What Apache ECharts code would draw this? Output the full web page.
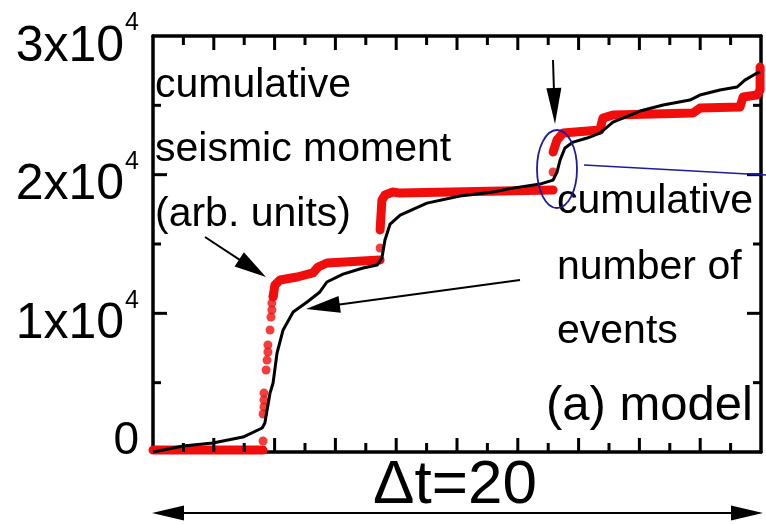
<!DOCTYPE html>
<html>
<head>
<meta charset="utf-8">
<script src="https://cdn.jsdelivr.net/npm/echarts@6/dist/echarts.min.js"></script>
<style>
  html, body { margin: 0; padding: 0; background: #fff; }
  #chart { width: 766px; height: 524px; }
</style>
</head>
<body>
<div id="chart"></div>
<script>
// Time runs over one window of length Δt = 20 (axis units 0..20).

// Cumulative seismic moment (arb. units), black curve
const momentT = [0, 0.99, 1.97, 2.96, 3.59, 3.68, 3.85, 3.95, 4.08, 4.28, 4.61, 5.07, 5.49, 5.72, 6.25, 6.91, 7.37,
  7.53, 7.63, 7.80, 8.13, 9.01, 10.10, 11.18, 11.84, 12.73, 13.16, 13.29, 13.39, 13.55, 13.82, 14.28, 14.70,
  15.13, 16.02, 16.78, 17.66, 17.99, 18.65, 19.21, 19.47, 19.87, 19.97];
const momentV = [0, 430, 650, 1080, 1730, 2090, 4250, 4980, 7140, 8800, 10090, 10820, 11540, 12260, 12830, 13270, 13480,
  13990, 15290, 16440, 17090, 17950, 18460, 18750, 19030, 19320, 19610, 20190, 21050, 21920, 22350, 22640, 23000,
  23790, 24590, 25020, 25380, 25740, 26100, 26320, 26820, 27330, 27400];

// Cumulative number of events, red staircase (null = break at a jump)
const eventsT = [0, 3.62, null, 3.95, 4.01, 4.18, 4.74, 5.26, 5.43, 5.72, 7.47, null,
  7.47, 7.53, 7.63, 7.89, 8.13, 13.16, null,
  13.16, 13.29, 13.49, 14.70, 14.80, 15.13, 17.76, 17.99, 19.31, 19.41, 19.87, 19.97, 19.97];
const eventsV = [140, 140, null, 11180, 12040, 12400, 12620, 12910, 13340, 13630, 13840, null,
  16010, 18170, 18530, 18750, 18670, 18890, null,
  21630, 22500, 23000, 23220, 24080, 24300, 24440, 24800, 24880, 25600, 25740, 26100, 27760];

// Sparse event points along the fast jumps
const eventDotsT = [3.62, 3.62, 3.65, 3.65, 3.65, 3.72, 3.75, 3.78, 3.78, 3.85, 3.88, 3.91, 3.91, 3.95, 7.47, 13.16];
const eventDotsV = [790, 2740, 3250, 3750, 4250, 5910, 6630, 7210, 7720, 8800, 9730, 10240, 10740, 11250, 14710, 20190];

// Tick positions: time ticks every 1 (long on even), moment ticks every 5000 (long on labelled ones)
const xTickValues = [1, 2, 3, 4, 5, 6, 7, 8, 9, 10, 11, 12, 13, 14, 15, 16, 17, 18, 19];
const yTickValues = [5000, 10000, 15000, 20000, 25000];
const yLabelValues = [0, 10000, 20000, 30000];

const X_MIN = 0, X_MAX = 20, Y_MIN = 0, Y_MAX = 30000;

const FONT = '"Liberation Sans", Arial, Helvetica, sans-serif';

const zip = (xs, ys) => xs.map((x, i) => [x, ys[i]]);
const momentData = zip(momentT, momentV);
const eventsData = eventsT.map((t, i) => (t === null ? '-' : [t, eventsV[i]]));
const dotsData = zip(eventDotsT, eventDotsV);

function yLabel(v) {
  if (v === 0) return '{z|0}';
  if (yLabelValues.indexOf(v) < 0) return '';
  return '{m|' + (v / 10000) + 'x10}{e|4}';
}

// Straight arrow with a filled triangular head at (x2, y2)
function arrow(x1, y1, x2, y2, headLen, headW, lw, color) {
  const dx = x2 - x1, dy = y2 - y1;
  const len = Math.hypot(dx, dy);
  const ux = dx / len, uy = dy / len;
  const bx = x2 - ux * headLen, by = y2 - uy * headLen;
  const px = -uy * headW / 2, py = ux * headW / 2;
  return [
    { type: 'line', silent: true, z: 20,
      shape: { x1: x1, y1: y1, x2: bx + ux * 2, y2: by + uy * 2 },
      style: { stroke: color, lineWidth: lw } },
    { type: 'polygon', silent: true, z: 20,
      shape: { points: [[x2, y2], [bx + px, by + py], [bx - px, by - py]] },
      style: { fill: color } }
  ];
}

function label(text, x, y, size, align) {
  return { type: 'text', silent: true, z: 15,
    style: { text: text, x: x, y: y, font: size + 'px ' + FONT, fill: '#000',
      align: align || 'left', verticalAlign: 'middle' } };
}

function xAxisDef(position) {
  return {
    type: 'value', min: X_MIN, max: X_MAX, interval: 2, position: position,
    axisLine: { show: true, onZero: false, lineStyle: { color: '#000', width: 3.5 } },
    axisTick: { show: false },
    minorTick: { show: false },
    axisLabel: { show: false },
    splitLine: { show: false }
  };
}

function yAxisDef(position, axisLabel) {
  return {
    type: 'value', min: Y_MIN, max: Y_MAX, interval: 10000, position: position,
    axisLine: { show: true, onZero: false, lineStyle: { color: '#000', width: 3.5 } },
    axisTick: { show: false },
    minorTick: { show: false },
    axisLabel: axisLabel,
    splitLine: { show: false }
  };
}

const TICK_STYLE = { stroke: '#000', lineWidth: 3 };

// Inward tick marks on both opposite sides of the frame
function renderXTick(params, api) {
  const t = api.value(0);
  const len = t % 2 === 0 ? 14 : 9;
  const b = api.coord([t, Y_MIN]);
  const top = api.coord([t, Y_MAX]);
  return { type: 'group', children: [
    { type: 'line', shape: { x1: b[0], y1: b[1], x2: b[0], y2: b[1] - len }, style: TICK_STYLE },
    { type: 'line', shape: { x1: top[0], y1: top[1], x2: top[0], y2: top[1] + len }, style: TICK_STYLE }
  ] };
}

function renderYTick(params, api) {
  const v = api.value(1);
  const len = v % 10000 === 0 ? 14 : 8;
  const l = api.coord([X_MIN, v]);
  const r = api.coord([X_MAX, v]);
  return { type: 'group', children: [
    { type: 'line', shape: { x1: l[0], y1: l[1], x2: l[0] + len, y2: l[1] }, style: TICK_STYLE },
    { type: 'line', shape: { x1: r[0], y1: r[1], x2: r[0] - len, y2: r[1] }, style: TICK_STYLE }
  ] };
}

const chart = echarts.init(document.getElementById('chart'), null, { renderer: 'canvas' });

const graphics = [].concat(
  label('cumulative', 155, 86, 41),
  label('seismic moment', 155, 150, 41),
  label('(arb. units)', 155, 215, 41),
  label('cumulative', 557, 202, 41),
  label('number of', 557, 268, 41),
  label('events', 557, 332, 41),
  label('(a) model', 753, 406, 49, 'right'),
  label('\u0394t=20', 455, 486, 62, 'center'),
  arrow(205, 237, 266, 277, 32, 17, 2, '#000'),
  arrow(520, 280, 306, 309, 34, 17, 2, '#000'),
  arrow(553, 60, 555, 124, 36, 15, 2, '#000'),
  arrow(458, 513, 152, 513, 32, 15, 2, '#000'),
  arrow(458, 513, 763, 513, 32, 15, 2, '#000'),
  [
    { type: 'ellipse', silent: true, z: 18,
      shape: { cx: 557, cy: 169, rx: 20, ry: 39 },
      style: { fill: 'none', stroke: '#1c1c9c', lineWidth: 1.8 } },
    { type: 'line', silent: true, z: 18,
      shape: { x1: 584, y1: 165, x2: 766, y2: 175 },
      style: { stroke: '#1c1c9c', lineWidth: 1.6 } }
  ]
);

chart.setOption({
  animation: false,
  backgroundColor: '#fff',
  grid: { left: 153, right: 5, top: 36, bottom: 72, containLabel: false },
  xAxis: [xAxisDef('bottom'), xAxisDef('top')],
  yAxis: [
    yAxisDef('left', {
      show: true, margin: 14, formatter: yLabel, color: '#000',
      rich: {
        m: { fontSize: 50, fontFamily: FONT, color: '#000', lineHeight: 50, padding: [22, 0, 0, 0] },
        e: { fontSize: 25, fontFamily: FONT, color: '#000', lineHeight: 25, verticalAlign: 'top', padding: [0, 0, 0, 1] },
        z: { fontSize: 46, fontFamily: FONT, color: '#000', lineHeight: 46, padding: [0, 0, 22, 0] }
      }
    }),
    yAxisDef('right', { show: false })
  ],
  series: [
    {
      name: 'time ticks', type: 'custom', xAxisIndex: 0, yAxisIndex: 0, silent: true,
      data: xTickValues.map(t => [t, Y_MIN]), encode: { x: 0, y: 1 },
      renderItem: renderXTick, z: 10
    },
    {
      name: 'moment ticks', type: 'custom', xAxisIndex: 0, yAxisIndex: 0, silent: true,
      data: yTickValues.map(v => [X_MIN, v]), encode: { x: 0, y: 1 },
      renderItem: renderYTick, z: 10
    },
    {
      name: 'number of events', type: 'line', xAxisIndex: 0, yAxisIndex: 0,
      data: eventsData, connectNulls: false, showSymbol: false, symbol: 'none', clip: false,
      lineStyle: { color: '#f20d0d', width: 9, cap: 'round', join: 'round' }, z: 3
    },
    {
      name: 'event points', type: 'scatter', xAxisIndex: 0, yAxisIndex: 0,
      data: dotsData, symbol: 'circle', symbolSize: 9,
      itemStyle: { color: '#f20d0d' }, z: 3
    },
    {
      name: 'seismic moment', type: 'line', xAxisIndex: 0, yAxisIndex: 0,
      data: momentData, showSymbol: false, symbol: 'none', clip: false,
      lineStyle: { color: '#000', width: 3, join: 'round' }, z: 4
    }
  ],
  graphic: graphics
});
</script>
</body>
</html>
